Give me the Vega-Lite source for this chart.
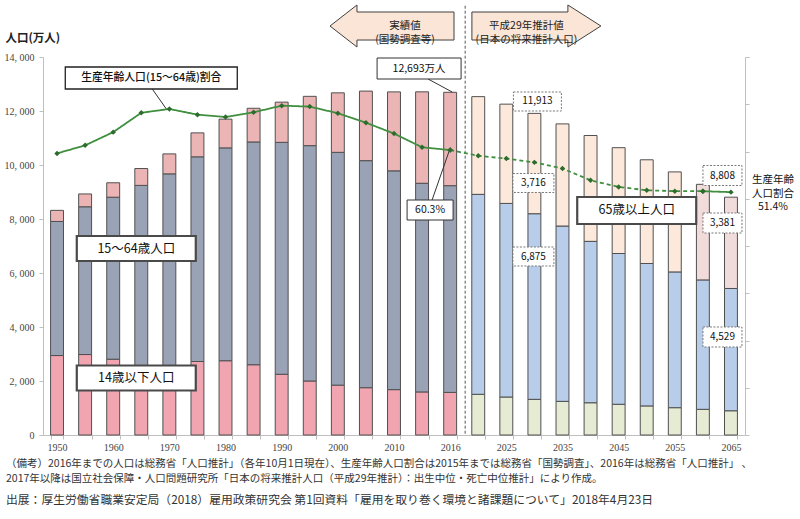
{
  "$schema": "https://vega.github.io/schema/vega-lite/v6.json",
  "width": 702,
  "height": 378,
  "autosize": {"type": "none"},
  "padding": {"left": 43, "top": 57, "right": 55, "bottom": 84},
  "background": "white",
  "config": {"view": {"stroke": null}, "font": "Noto Sans CJK JP"},
  "title": {
    "text": ["（備考）2016年までの人口は総務省「人口推計」（各年10月1日現在）、生産年齢人口割合は2015年までは総務省「国勢調査」、2016年は総務省「人口推計」 、", "　　　　2017年以降は国立社会保障・人口問題研究所「日本の将来推計人口（平成29年推計）：出生中位・死亡中位推計」により作成。"],
    "subtitle": "出展：厚生労働省職業安定局（2018）雇用政策研究会 第1回資料「雇用を取り巻く環境と諸課題について」2018年4月23日",
    "orient": "bottom",
    "anchor": "start",
    "frame": "bounds",
    "font": "Noto Sans CJK JP",
    "fontSize": 10.5,
    "fontWeight": "normal",
    "color": "#333",
    "lineHeight": 15,
    "subtitleFont": "Noto Sans CJK JP",
    "subtitleFontSize": 11.8,
    "subtitleColor": "#333",
    "subtitlePadding": 10,
    "offset": 7,
    "dx": 2
  },
  "datasets": {
    "pop": [
      {"year": "1950", "period": "実績", "age": "0-14", "value": 2943},
      {"year": "1950", "period": "実績", "age": "15-64", "value": 4966},
      {"year": "1950", "period": "実績", "age": "65+", "value": 411},
      {"year": "1955", "period": "実績", "age": "0-14", "value": 2980},
      {"year": "1955", "period": "実績", "age": "15-64", "value": 5473},
      {"year": "1955", "period": "実績", "age": "65+", "value": 475},
      {"year": "1960", "period": "実績", "age": "0-14", "value": 2807},
      {"year": "1960", "period": "実績", "age": "15-64", "value": 6000},
      {"year": "1960", "period": "実績", "age": "65+", "value": 535},
      {"year": "1965", "period": "実績", "age": "0-14", "value": 2553},
      {"year": "1965", "period": "実績", "age": "15-64", "value": 6692},
      {"year": "1965", "period": "実績", "age": "65+", "value": 624},
      {"year": "1970", "period": "実績", "age": "0-14", "value": 2515},
      {"year": "1970", "period": "実績", "age": "15-64", "value": 7157},
      {"year": "1970", "period": "実績", "age": "65+", "value": 739},
      {"year": "1975", "period": "実績", "age": "0-14", "value": 2722},
      {"year": "1975", "period": "実績", "age": "15-64", "value": 7581},
      {"year": "1975", "period": "実績", "age": "65+", "value": 887},
      {"year": "1980", "period": "実績", "age": "0-14", "value": 2751},
      {"year": "1980", "period": "実績", "age": "15-64", "value": 7883},
      {"year": "1980", "period": "実績", "age": "65+", "value": 1065},
      {"year": "1985", "period": "実績", "age": "0-14", "value": 2603},
      {"year": "1985", "period": "実績", "age": "15-64", "value": 8251},
      {"year": "1985", "period": "実績", "age": "65+", "value": 1247},
      {"year": "1990", "period": "実績", "age": "0-14", "value": 2249},
      {"year": "1990", "period": "実績", "age": "15-64", "value": 8590},
      {"year": "1990", "period": "実績", "age": "65+", "value": 1489},
      {"year": "1995", "period": "実績", "age": "0-14", "value": 2001},
      {"year": "1995", "period": "実績", "age": "15-64", "value": 8716},
      {"year": "1995", "period": "実績", "age": "65+", "value": 1826},
      {"year": "2000", "period": "実績", "age": "0-14", "value": 1847},
      {"year": "2000", "period": "実績", "age": "15-64", "value": 8622},
      {"year": "2000", "period": "実績", "age": "65+", "value": 2204},
      {"year": "2005", "period": "実績", "age": "0-14", "value": 1752},
      {"year": "2005", "period": "実績", "age": "15-64", "value": 8409},
      {"year": "2005", "period": "実績", "age": "65+", "value": 2576},
      {"year": "2010", "period": "実績", "age": "0-14", "value": 1680},
      {"year": "2010", "period": "実績", "age": "15-64", "value": 8103},
      {"year": "2010", "period": "実績", "age": "65+", "value": 2925},
      {"year": "2015", "period": "実績", "age": "0-14", "value": 1595},
      {"year": "2015", "period": "実績", "age": "15-64", "value": 7728},
      {"year": "2015", "period": "実績", "age": "65+", "value": 3387},
      {"year": "2016", "period": "実績", "age": "0-14", "value": 1578},
      {"year": "2016", "period": "実績", "age": "15-64", "value": 7656},
      {"year": "2016", "period": "実績", "age": "65+", "value": 3459},
      {"year": "2020", "period": "推計", "age": "0-14", "value": 1507},
      {"year": "2020", "period": "推計", "age": "15-64", "value": 7406},
      {"year": "2020", "period": "推計", "age": "65+", "value": 3619},
      {"year": "2025", "period": "推計", "age": "0-14", "value": 1407},
      {"year": "2025", "period": "推計", "age": "15-64", "value": 7170},
      {"year": "2025", "period": "推計", "age": "65+", "value": 3677},
      {"year": "2030", "period": "推計", "age": "0-14", "value": 1321},
      {"year": "2030", "period": "推計", "age": "15-64", "value": 6875},
      {"year": "2030", "period": "推計", "age": "65+", "value": 3716},
      {"year": "2035", "period": "推計", "age": "0-14", "value": 1246},
      {"year": "2035", "period": "推計", "age": "15-64", "value": 6494},
      {"year": "2035", "period": "推計", "age": "65+", "value": 3782},
      {"year": "2040", "period": "推計", "age": "0-14", "value": 1194},
      {"year": "2040", "period": "推計", "age": "15-64", "value": 5978},
      {"year": "2040", "period": "推計", "age": "65+", "value": 3921},
      {"year": "2045", "period": "推計", "age": "0-14", "value": 1138},
      {"year": "2045", "period": "推計", "age": "15-64", "value": 5584},
      {"year": "2045", "period": "推計", "age": "65+", "value": 3919},
      {"year": "2050", "period": "推計", "age": "0-14", "value": 1077},
      {"year": "2050", "period": "推計", "age": "15-64", "value": 5275},
      {"year": "2050", "period": "推計", "age": "65+", "value": 3841},
      {"year": "2055", "period": "推計", "age": "0-14", "value": 1012},
      {"year": "2055", "period": "推計", "age": "15-64", "value": 5028},
      {"year": "2055", "period": "推計", "age": "65+", "value": 3704},
      {"year": "2060", "period": "推計", "age": "0-14", "value": 951},
      {"year": "2060", "period": "推計", "age": "15-64", "value": 4793},
      {"year": "2060", "period": "推計(強調)", "age": "65+", "value": 3540},
      {"year": "2065", "period": "推計", "age": "0-14", "value": 898},
      {"year": "2065", "period": "推計", "age": "15-64", "value": 4529},
      {"year": "2065", "period": "推計(強調)", "age": "65+", "value": 3381}
    ],
    "ratio": [
      {"year": "1950", "seg": "a", "ratio": 59.6},
      {"year": "1955", "seg": "a", "ratio": 61.3},
      {"year": "1960", "seg": "a", "ratio": 64.1},
      {"year": "1965", "seg": "a", "ratio": 68.2},
      {"year": "1970", "seg": "a", "ratio": 69.0},
      {"year": "1975", "seg": "a", "ratio": 67.8},
      {"year": "1980", "seg": "a", "ratio": 67.3},
      {"year": "1985", "seg": "a", "ratio": 68.3},
      {"year": "1990", "seg": "a", "ratio": 69.7},
      {"year": "1995", "seg": "a", "ratio": 69.5},
      {"year": "2000", "seg": "a", "ratio": 68.1},
      {"year": "2005", "seg": "a", "ratio": 66.1},
      {"year": "2010", "seg": "a", "ratio": 63.8},
      {"year": "2015", "seg": "a", "ratio": 60.9},
      {"year": "2016", "seg": "a", "ratio": 60.3},
      {"year": "2016", "seg": "b", "ratio": 60.3},
      {"year": "2020", "seg": "b", "ratio": 59.1},
      {"year": "2025", "seg": "b", "ratio": 58.5},
      {"year": "2030", "seg": "b", "ratio": 57.7},
      {"year": "2035", "seg": "b", "ratio": 56.4},
      {"year": "2040", "seg": "b", "ratio": 53.9},
      {"year": "2045", "seg": "b", "ratio": 52.5},
      {"year": "2050", "seg": "b", "ratio": 51.8},
      {"year": "2055", "seg": "b", "ratio": 51.6},
      {"year": "2060", "seg": "b", "ratio": 51.6},
      {"year": "2060", "seg": "c", "ratio": 51.6},
      {"year": "2065", "seg": "c", "ratio": 51.4}
    ],
    "ann": [
      {"id": "arrowL", "year": "2010", "value": 15148, "label": "実績値\n(国勢調査等)"},
      {"id": "arrowR", "year": "2030", "value": 15148, "label": "平成29年推計値\n(日本の将来推計人口)"},
      {"id": "ratioTitle", "year": "1965", "value": 13222, "label": "生産年齢人口(15〜64歳)割合"},
      {"id": "b1564", "year": "1965", "value": 6907, "label": "15〜64歳人口"},
      {"id": "b014", "year": "1965", "value": 2111, "label": "14歳以下人口"},
      {"id": "b65", "year": "2050", "value": 8315, "label": "65歳以上人口"},
      {"id": "total2016", "year": "2015", "value": 13574, "label": "12,693万人"},
      {"id": "r2016", "year": "2015", "value": 8333, "label": "60.3%"},
      {"id": "v11913", "year": "2030", "value": 12352, "label": "11,913"},
      {"id": "v3716", "year": "2030", "value": 9333, "label": "3,716"},
      {"id": "v6875", "year": "2030", "value": 6611, "label": "6,875"},
      {"id": "v8808", "year": "2065", "value": 9611, "label": "8,808"},
      {"id": "v3381", "year": "2065", "value": 7852, "label": "3,381"},
      {"id": "v4529", "year": "2065", "value": 3630, "label": "4,529"},
      {"id": "r2065", "year": "2065", "value": 9426, "label": "生産年齢\n人口割合\n51.4%"},
      {"id": "divider", "year": "2016", "value": 15900, "label": ""}
    ],
    "conn": [
      {"id": "c1", "year": "1965", "year2": "1970", "value": 12815, "value2": 12074},
      {"id": "c4", "year": "2015", "year2": "2016", "value": 13185, "value2": 12704},
      {"id": "c5", "year": "2015", "year2": "2016", "value": 8704, "value2": 10519}
    ]
  },
  "layer": [
    {
      "layer": [
        {
          "data": {"name": "pop"},
          "transform": [{"calculate": "datum.period + '|' + datum.age", "as": "key"}],
          "mark": {"type": "bar", "stroke": "#505050", "strokeWidth": 1},
          "encoding": {
            "x": {
              "field": "year", "type": "nominal", "title": null,
              "scale": {"domain": ["1950","1955","1960","1965","1970","1975","1980","1985","1990","1995","2000","2005","2010","2015","2016","2020","2025","2030","2035","2040","2045","2050","2055","2060","2065"], "paddingInner": 0.54, "paddingOuter": 0.27},
              "axis": {
                "title": null, "tickBand": "extent", "labelAngle": 0, "labelOverlap": false,
                "labelFont": "Liberation Serif", "labelFontSize": 10, "labelColor": "#444",
                "tickSize": 4, "labelPadding": 3, "domainColor": "#bfbfbf", "tickColor": "#bfbfbf",
                "labelExpr": "(toNumber(datum.value) % 10 == 0 && toNumber(datum.value) <= 2010) || datum.value == '2016' || (toNumber(datum.value) >= 2025 && toNumber(datum.value) % 10 == 5) ? datum.value : ''"
              }
            },
            "y": {
              "field": "value", "type": "quantitative", "stack": "zero", "title": "人口(万人)",
              "scale": {"domain": [0, 14000], "nice": false},
              "axis": {
                "title": "人口(万人)", "titleAngle": 0, "titleAlign": "left", "titleBaseline": "middle",
                "titleX": -38, "titleY": -19, "titleFontSize": 11.5, "titleFontWeight": "bold", "titleColor": "#222",
                "values": [0, 2000, 4000, 6000, 8000, 10000, 12000, 14000],
                "labelExpr": "replace(format(datum.value, ','), ',', ', ')",
                "labelFont": "Liberation Serif", "labelFontSize": 10, "labelColor": "#444", "labelPadding": 5,
                "tickSize": 4, "grid": false, "domainColor": "#bfbfbf", "tickColor": "#bfbfbf"
              }
            },
            "color": {
              "field": "key", "type": "nominal", "legend": null,
              "scale": {
                "domain": ["実績|0-14", "実績|15-64", "実績|65+", "推計|0-14", "推計|15-64", "推計|65+", "推計(強調)|65+"],
                "range": ["#f0a5b0", "#9aa2b5", "#ebb5b6", "#e6ebd3", "#b8cde9", "#fde9db", "#f2dcdb"]
              }
            },
            "order": {"field": "age", "sort": "ascending"}
          }
        },
        {
          "data": {"name": "ann"},
          "transform": [{"filter": "datum.id === 'divider'"}],
          "mark": {"type": "rule", "color": "#555", "strokeWidth": 1, "strokeDash": [3, 2], "xOffset": 15},
          "encoding": {
            "x": {"field": "year", "type": "nominal", "title": null},
            "y": {"field": "value", "type": "quantitative", "title": "人口(万人)", "scale": {"domain": [0, 14000], "nice": false}},
            "y2": {"datum": 0}
          }
        },
        {
          "data": {"name": "conn"},
          "transform": [{"filter": "datum.id === 'c1'"}],
          "mark": {"type": "rule", "color": "#333", "strokeWidth": 1, "xOffset": 11, "x2Offset": -3},
          "encoding": {
            "x": {"field": "year", "type": "nominal", "title": null},
            "x2": {"field": "year2"},
            "y": {"field": "value", "type": "quantitative", "title": "人口(万人)", "scale": {"domain": [0, 14000], "nice": false}},
            "y2": {"field": "value2"}
          }
        },
        {
          "data": {"name": "conn"},
          "transform": [{"filter": "datum.id === 'c4'"}],
          "mark": {"type": "rule", "color": "#333", "strokeWidth": 1, "xOffset": 6, "x2Offset": 2},
          "encoding": {
            "x": {"field": "year", "type": "nominal", "title": null},
            "x2": {"field": "year2"},
            "y": {"field": "value", "type": "quantitative", "title": "人口(万人)", "scale": {"domain": [0, 14000], "nice": false}},
            "y2": {"field": "value2"}
          }
        },
        {
          "data": {"name": "conn"},
          "transform": [{"filter": "datum.id === 'c5'"}],
          "mark": {"type": "rule", "color": "#333", "strokeWidth": 1, "xOffset": 10, "x2Offset": -1},
          "encoding": {
            "x": {"field": "year", "type": "nominal", "title": null},
            "x2": {"field": "year2"},
            "y": {"field": "value", "type": "quantitative", "title": "人口(万人)", "scale": {"domain": [0, 14000], "nice": false}},
            "y2": {"field": "value2"}
          }
        },
        {
          "data": {"name": "ann"},
          "transform": [{"filter": "datum.id === 'arrowL'"}],
          "mark": {"type": "point", "shape": "M-1,0L-0.565,-0.339L-0.565,-0.226L1,-0.226L1,0.226L-0.565,0.226L-0.565,0.339Z", "size": 15376, "filled": true, "fill": "#fbe5d6", "stroke": "#404040", "strokeWidth": 1, "opacity": 1, "xOffset": -2},
          "encoding": {
            "x": {"field": "year", "type": "nominal", "title": null},
            "y": {"field": "value", "type": "quantitative", "title": "人口(万人)", "scale": {"domain": [0, 14000], "nice": false}}
          }
        },
        {
          "data": {"name": "ann"},
          "transform": [{"filter": "datum.id === 'arrowR'"}],
          "mark": {"type": "point", "shape": "M1,0L0.488,-0.326L0.488,-0.217L-1,-0.217L-1,0.217L0.488,0.217L0.488,0.326Z", "size": 16641, "filled": true, "fill": "#fbe5d6", "stroke": "#404040", "strokeWidth": 1, "opacity": 1, "xOffset": 2},
          "encoding": {
            "x": {"field": "year", "type": "nominal", "title": null},
            "y": {"field": "value", "type": "quantitative", "title": "人口(万人)", "scale": {"domain": [0, 14000], "nice": false}}
          }
        },
        {
          "data": {"name": "ann"},
          "transform": [{"filter": "datum.id === 'arrowL'"}],
          "mark": {"type": "text", "xOffset": 11, "fontSize": 10.5, "color": "#222", "lineBreak": "\n", "lineHeight": 13.5},
          "encoding": {
            "x": {"field": "year", "type": "nominal", "title": null},
            "y": {"field": "value", "type": "quantitative", "title": "人口(万人)", "scale": {"domain": [0, 14000], "nice": false}},
            "text": {"field": "label"}
          }
        },
        {
          "data": {"name": "ann"},
          "transform": [{"filter": "datum.id === 'arrowR'"}],
          "mark": {"type": "text", "xOffset": -8, "fontSize": 10.5, "color": "#222", "lineBreak": "\n", "lineHeight": 13.5},
          "encoding": {
            "x": {"field": "year", "type": "nominal", "title": null},
            "y": {"field": "value", "type": "quantitative", "title": "人口(万人)", "scale": {"domain": [0, 14000], "nice": false}},
            "text": {"field": "label"}
          }
        },
        {
          "data": {"name": "ann"},
          "transform": [{"filter": "datum.id === 'ratioTitle'"}],
          "mark": {"type": "point", "shape": "M-1,-0.128H1V0.128H-1Z", "size": 29584, "filled": true, "fill": "white", "stroke": "#222", "strokeWidth": 1.3, "opacity": 1, "xOffset": 10},
          "encoding": {
            "x": {"field": "year", "type": "nominal", "title": null},
            "y": {"field": "value", "type": "quantitative", "title": "人口(万人)", "scale": {"domain": [0, 14000], "nice": false}}
          }
        },
        {
          "data": {"name": "ann"},
          "transform": [{"filter": "datum.id === 'b1564' || datum.id === 'b014'"}],
          "mark": {"type": "point", "shape": "M-1,-0.21H1V0.21H-1Z", "size": 14161, "filled": true, "fill": "white", "stroke": "#4a4a4a", "strokeWidth": 2.2, "opacity": 1, "xOffset": -5},
          "encoding": {
            "x": {"field": "year", "type": "nominal", "title": null},
            "y": {"field": "value", "type": "quantitative", "title": "人口(万人)", "scale": {"domain": [0, 14000], "nice": false}}
          }
        },
        {
          "data": {"name": "ann"},
          "transform": [{"filter": "datum.id === 'b65'"}],
          "mark": {"type": "point", "shape": "M-1,-0.227H1V0.227H-1Z", "size": 14161, "filled": true, "fill": "white", "stroke": "#4a4a4a", "strokeWidth": 2.2, "opacity": 1, "xOffset": -10},
          "encoding": {
            "x": {"field": "year", "type": "nominal", "title": null},
            "y": {"field": "value", "type": "quantitative", "title": "人口(万人)", "scale": {"domain": [0, 14000], "nice": false}}
          }
        },
        {
          "data": {"name": "ann"},
          "transform": [{"filter": "datum.id === 'total2016'"}],
          "mark": {"type": "point", "shape": "M-1,-0.25H1V0.25H-1Z", "size": 7056, "filled": true, "fill": "white", "stroke": "#333", "strokeWidth": 1, "opacity": 1, "xOffset": -3},
          "encoding": {
            "x": {"field": "year", "type": "nominal", "title": null},
            "y": {"field": "value", "type": "quantitative", "title": "人口(万人)", "scale": {"domain": [0, 14000], "nice": false}}
          }
        },
        {
          "data": {"name": "ann"},
          "transform": [{"filter": "datum.id === 'r2016'"}],
          "mark": {"type": "point", "shape": "M-1,-0.435H1V0.435H-1Z", "size": 2116, "filled": true, "fill": "white", "stroke": "#333", "strokeWidth": 1, "opacity": 1, "xOffset": 8},
          "encoding": {
            "x": {"field": "year", "type": "nominal", "title": null},
            "y": {"field": "value", "type": "quantitative", "title": "人口(万人)", "scale": {"domain": [0, 14000], "nice": false}}
          }
        },
        {
          "data": {"name": "ann"},
          "transform": [{"filter": "datum.id === 'v11913'"}],
          "mark": {"type": "point", "shape": "M-1,-0.396H1V0.396H-1Z", "size": 2304, "filled": true, "fill": "white", "stroke": "#777", "strokeWidth": 1, "strokeDash": [2, 1.5], "opacity": 1, "xOffset": 3},
          "encoding": {
            "x": {"field": "year", "type": "nominal", "title": null},
            "y": {"field": "value", "type": "quantitative", "title": "人口(万人)", "scale": {"domain": [0, 14000], "nice": false}}
          }
        },
        {
          "data": {"name": "ann"},
          "transform": [{"filter": "datum.id === 'v3716' || datum.id === 'v6875'"}],
          "mark": {"type": "point", "shape": "M-1,-0.463H1V0.463H-1Z", "size": 1681, "filled": true, "fill": "white", "stroke": "#777", "strokeWidth": 1, "strokeDash": [2, 1.5], "opacity": 1, "xOffset": -1},
          "encoding": {
            "x": {"field": "year", "type": "nominal", "title": null},
            "y": {"field": "value", "type": "quantitative", "title": "人口(万人)", "scale": {"domain": [0, 14000], "nice": false}}
          }
        },
        {
          "data": {"name": "ann"},
          "transform": [{"filter": "datum.id === 'v8808' || datum.id === 'v3381' || datum.id === 'v4529'"}],
          "mark": {"type": "point", "shape": "M-1,-0.513H1V0.513H-1Z", "size": 1521, "filled": true, "fill": "white", "stroke": "#777", "strokeWidth": 1, "strokeDash": [2, 1.5], "opacity": 1, "xOffset": -8.5},
          "encoding": {
            "x": {"field": "year", "type": "nominal", "title": null},
            "y": {"field": "value", "type": "quantitative", "title": "人口(万人)", "scale": {"domain": [0, 14000], "nice": false}}
          }
        },
        {
          "data": {"name": "ann"},
          "transform": [{"filter": "datum.id === 'ratioTitle'"}],
          "mark": {"type": "text", "xOffset": 10, "fontSize": 10.8, "fontWeight": 500, "color": "#111"},
          "encoding": {
            "x": {"field": "year", "type": "nominal", "title": null},
            "y": {"field": "value", "type": "quantitative", "title": "人口(万人)", "scale": {"domain": [0, 14000], "nice": false}},
            "text": {"field": "label"}
          }
        },
        {
          "data": {"name": "ann"},
          "transform": [{"filter": "datum.id === 'b1564' || datum.id === 'b014'"}],
          "mark": {"type": "text", "xOffset": -5, "fontSize": 12.5, "color": "#111"},
          "encoding": {
            "x": {"field": "year", "type": "nominal", "title": null},
            "y": {"field": "value", "type": "quantitative", "title": "人口(万人)", "scale": {"domain": [0, 14000], "nice": false}},
            "text": {"field": "label"}
          }
        },
        {
          "data": {"name": "ann"},
          "transform": [{"filter": "datum.id === 'b65'"}],
          "mark": {"type": "text", "xOffset": -10, "fontSize": 12.5, "color": "#111"},
          "encoding": {
            "x": {"field": "year", "type": "nominal", "title": null},
            "y": {"field": "value", "type": "quantitative", "title": "人口(万人)", "scale": {"domain": [0, 14000], "nice": false}},
            "text": {"field": "label"}
          }
        },
        {
          "data": {"name": "ann"},
          "transform": [{"filter": "datum.id === 'total2016'"}],
          "mark": {"type": "text", "xOffset": -3, "fontSize": 10.5, "color": "#111"},
          "encoding": {
            "x": {"field": "year", "type": "nominal", "title": null},
            "y": {"field": "value", "type": "quantitative", "title": "人口(万人)", "scale": {"domain": [0, 14000], "nice": false}},
            "text": {"field": "label"}
          }
        },
        {
          "data": {"name": "ann"},
          "transform": [{"filter": "datum.id === 'r2016'"}],
          "mark": {"type": "text", "xOffset": 8, "fontSize": 10.5, "color": "#111"},
          "encoding": {
            "x": {"field": "year", "type": "nominal", "title": null},
            "y": {"field": "value", "type": "quantitative", "title": "人口(万人)", "scale": {"domain": [0, 14000], "nice": false}},
            "text": {"field": "label"}
          }
        },
        {
          "data": {"name": "ann"},
          "transform": [{"filter": "datum.id === 'v11913'"}],
          "mark": {"type": "text", "xOffset": 3, "fontSize": 10, "color": "#111"},
          "encoding": {
            "x": {"field": "year", "type": "nominal", "title": null},
            "y": {"field": "value", "type": "quantitative", "title": "人口(万人)", "scale": {"domain": [0, 14000], "nice": false}},
            "text": {"field": "label"}
          }
        },
        {
          "data": {"name": "ann"},
          "transform": [{"filter": "datum.id === 'v3716' || datum.id === 'v6875'"}],
          "mark": {"type": "text", "xOffset": -1, "fontSize": 10, "color": "#111"},
          "encoding": {
            "x": {"field": "year", "type": "nominal", "title": null},
            "y": {"field": "value", "type": "quantitative", "title": "人口(万人)", "scale": {"domain": [0, 14000], "nice": false}},
            "text": {"field": "label"}
          }
        },
        {
          "data": {"name": "ann"},
          "transform": [{"filter": "datum.id === 'v8808' || datum.id === 'v3381' || datum.id === 'v4529'"}],
          "mark": {"type": "text", "xOffset": -8.5, "fontSize": 10, "color": "#111"},
          "encoding": {
            "x": {"field": "year", "type": "nominal", "title": null},
            "y": {"field": "value", "type": "quantitative", "title": "人口(万人)", "scale": {"domain": [0, 14000], "nice": false}},
            "text": {"field": "label"}
          }
        },
        {
          "data": {"name": "ann"},
          "transform": [{"filter": "datum.id === 'r2065'"}],
          "mark": {"type": "text", "xOffset": 42, "fontSize": 10.5, "color": "#111", "lineBreak": "\n", "lineHeight": 13.5},
          "encoding": {
            "x": {"field": "year", "type": "nominal", "title": null},
            "y": {"field": "value", "type": "quantitative", "title": "人口(万人)", "scale": {"domain": [0, 14000], "nice": false}},
            "text": {"field": "label"}
          }
        }
      ]
    },
    {
      "data": {"name": "ratio"},
      "layer": [
        {
          "mark": {"type": "line", "color": "#3f8f3f", "strokeWidth": 1.8},
          "encoding": {
            "x": {"field": "year", "type": "nominal", "title": null},
            "y": {
              "field": "ratio", "type": "quantitative", "title": null,
              "scale": {"domain": [0, 80], "nice": false},
              "axis": {"orient": "right", "title": null, "values": [0, 10, 20, 30, 40, 50, 60, 70, 80], "labels": false, "tickSize": 4, "grid": false, "domainColor": "#bfbfbf", "tickColor": "#bfbfbf"}
            },
            "detail": {"field": "seg"},
            "strokeDash": {"field": "seg", "type": "nominal", "legend": null, "scale": {"domain": ["a", "b", "c"], "range": [[1, 0], [4, 3], [1, 0]]}}
          }
        },
        {
          "mark": {"type": "point", "shape": "diamond", "filled": true, "color": "#2e6b2e", "size": 30, "opacity": 1},
          "encoding": {
            "x": {"field": "year", "type": "nominal", "title": null},
            "y": {"field": "ratio", "type": "quantitative", "title": null, "scale": {"domain": [0, 80], "nice": false}}
          }
        }
      ]
    }
  ],
  "resolve": {"scale": {"y": "independent"}}
}
